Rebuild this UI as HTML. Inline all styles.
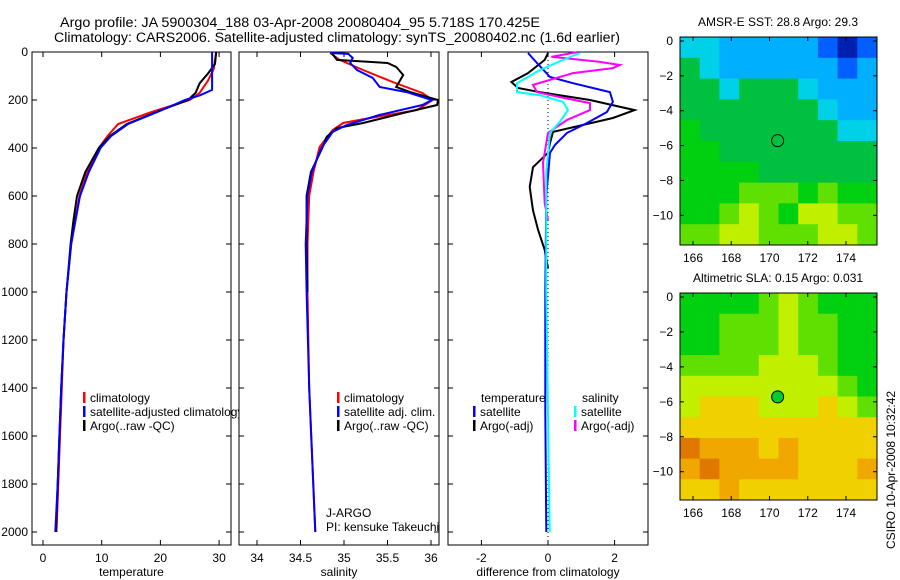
<!DOCTYPE html>
<html><head><meta charset="utf-8"><style>
html,body{margin:0;padding:0;background:#fff;}
svg{display:block;font-family:"Liberation Sans",sans-serif;}
</style></head><body>
<svg id="s" width="900" height="580" xmlns="http://www.w3.org/2000/svg"></svg>
<script>
// ---- data ----
const tempDepthClim=[0,70,120,170,200,250,300,350,400,500,600,800,1000,1200,1400,1600,1800,2000];
const tempClim=[29.5,29.1,28.1,26.7,25,18.5,12.8,11,9.5,7.5,6.2,4.8,4.0,3.5,3.2,2.9,2.6,2.3];
const tempDepthSat=[0,158,180,200,250,300,350,400,500,600,800,1000,1200,1400,1600,1800,2000];
const tempSat=[28.8,28.8,26.8,24.2,19.5,14.5,11.6,9.8,7.8,6.3,4.8,4.0,3.5,3.1,2.8,2.5,2.1];
const tempDepthArgo=[0,50,90,130,170,200,250,300,350,400,500,600,700,800,1000,1200,1400,1600,1800,2000];
const tempArgo=[29.5,29.3,28.1,26.7,26,24.7,19.3,14.3,11.4,9.5,7.2,5.8,5.2,4.7,4.0,3.5,3.1,2.8,2.5,2.2];

const salDepthClim=[4,33,75,125,171,200,242,275,296,325,396,500,600,800,1000,1400,2000];
const salClim=[34.84,34.95,35.22,35.56,35.9,36.02,35.84,35.3,34.99,34.87,34.72,34.65,34.6,34.58,34.58,34.6,34.67];
const salDepthSat=[4,8,25,46,75,108,146,167,200,221,262,304,333,400,500,600,800,1000,1400,2000];
const salSat=[34.84,35.05,35.1,35.07,35.15,35.33,35.41,35.72,36.01,35.9,35.41,35.03,34.87,34.74,34.63,34.58,34.56,34.57,34.6,34.67];
const salDepthArgo=[4,33,46,62,96,146,167,200,221,254,296,317,354,400,500,600,800,1000];
const salArgo=[34.86,34.92,35.5,35.6,35.68,35.6,35.76,36.08,36.07,35.68,35.22,34.92,34.8,34.75,34.62,34.57,34.57,34.58];

const diffDepthTA=[4,33,88,125,150,167,200,242,275,333,380,420,480,562,660,740,825,900];
const diffTA=[0,-0.1,-0.6,-1.1,-0.9,-0.25,1.26,2.6,1.95,0.15,0.06,0,-0.45,-0.55,-0.45,-0.3,-0.1,0];
const diffDepthTS=[4,46,104,130,167,208,250,296,337,387,420,600,1000,1500,2000];
const diffTS=[-0.6,-0.33,0.06,0.75,1.86,1.95,1.77,1.17,0.57,0.21,0.06,-0.05,-0.08,-0.08,-0.05];
const diffDepthSS=[4,33,75,130,167,180,208,242,290,337,500,1000,1500,2000];
const diffSS=[0.96,0.45,-0.24,-0.93,-0.93,-0.24,0.45,0.6,0.36,0.06,-0.05,-0.05,0,0.05];
const diffDepthSA=[0,20,40,54,67,88,137,167,188,213,242,283,337,462,630,700];
const diffSA=[0.9,0.1,1.5,2.16,1.95,0.75,-0.45,-0.33,0.36,1.26,1.26,0.57,0,-0.15,-0.1,0];

const depthTicks=[0,200,400,600,800,1000,1200,1400,1600,1800,2000];
const tempTicks=[0,10,20,30];
const salTicks=[34,34.5,35,35.5,36];
const diffTicks=[-2,0,2];
const lonTicks=[166,168,170,172,174];
const latTicks=[0,-2,-4,-6,-8,-10];

const palette=["#0020b0","#0060ff","#00b0ff","#00d0e8","#00c040","#00d010","#60e000","#c0f000","#f0d000","#f0a800","#e07800"];
const sstGrid=[
[3,3,2,2,2,2,2,1,0,1],
[4,3,2,2,2,2,2,2,1,2],
[4,4,3,4,4,4,3,2,2,2],
[4,4,4,4,4,4,4,3,2,2],
[5,4,4,4,4,4,4,4,3,3],
[5,5,4,4,4,4,4,4,4,4],
[5,5,5,5,4,4,4,4,4,4],
[5,5,5,6,6,6,5,6,5,5],
[5,5,6,7,6,5,7,7,6,6],
[6,6,7,7,6,6,6,7,7,6]];
const slaGrid=[
[5,5,5,5,6,7,6,5,5,5],
[5,5,6,6,6,7,6,6,5,5],
[5,5,6,6,6,7,6,6,5,5],
[6,6,6,6,7,7,7,6,5,5],
[7,7,7,7,7,7,7,7,6,5],
[7,8,8,8,7,7,7,8,7,6],
[8,8,8,8,8,8,8,8,8,8],
[10,9,9,9,8,9,8,8,8,8],
[9,10,9,9,9,9,8,8,8,9],
[8,8,9,8,8,8,8,8,8,8]];
const floatLon=170.425, floatLat=-5.718;

// ---- drawing ----
const S=document.getElementById('s');const NS='http://www.w3.org/2000/svg';
function el(t,a,p){const e=document.createElementNS(NS,t);for(const k in a)e.setAttribute(k,a[k]);(p||S).appendChild(e);return e;}
function txt(x,y,s,o,p){const e=el('text',Object.assign({x:x,y:y,'font-size':12,fill:'#000'},o||{}),p);e.textContent=s;return e;}
const TOP=52,BOT=545;
const yD=d=>52+d*0.24;

function panel(name,x0,x1,xf,ticks,label,tickFmt){
  const g=el('g',{});
  
  
  el('rect',{x:x0,y:TOP,width:x1-x0,height:BOT-TOP,fill:'#fff',stroke:'#000','stroke-width':1},g);
  ticks.forEach(t=>{const x=xf(t);
    el('line',{x1:x,x2:x,y1:BOT,y2:BOT-5,stroke:'#000'},g);
    el('line',{x1:x,x2:x,y1:TOP,y2:TOP+5,stroke:'#000'},g);
    const l=txt(x,562,tickFmt?tickFmt(t):String(t),{'text-anchor':'middle'},g);
    
    
  });
  depthTicks.forEach(d=>{const y=yD(d);
    el('line',{x1:x0,x2:x0+5,y1:y,y2:y,stroke:'#000'},g);
    el('line',{x1:x1,x2:x1-5,y1:y,y2:y,stroke:'#000'},g);});
  const t=txt((x0+x1)/2,576,label,{'text-anchor':'middle'},g);
  
  
  return g;
}
function line(g,xs,ds,xf,col,name){
  const pts=xs.map((v,i)=>xf(v).toFixed(1)+','+yD(ds[i]).toFixed(1)).join(' ');
  const p=el('polyline',{points:pts,fill:'none',stroke:col,'stroke-width':2},g);
  
  
}
function legend(g,x,y,col,label){
  el('rect',{x:x,y:y-10,width:2.5,height:11,fill:col},g);
  const t=txt(x+7,y,label,{},g);
  
  
}
// titles
let t1=txt(60,27,'Argo profile: JA 5900304_188 03-Apr-2008 20080404_95 5.718S 170.425E',{'font-size':13.5,textLength:480,lengthAdjust:'spacingAndGlyphs'});


let t2=txt(54,42,'Climatology: CARS2006. Satellite-adjusted climatology: synTS_20080402.nc (1.6d earlier)',{'font-size':13.5,textLength:566,lengthAdjust:'spacingAndGlyphs'});



// panel 1 temperature
const xT=v=>43+v*5.87;
const g1=panel('temperature-panel',32,231,xT,tempTicks,'temperature');
depthTicks.forEach(d=>{const l=txt(28,yD(d)+4,String(d),{'text-anchor':'end'});
  
  });
line(g1,tempClim,tempDepthClim,xT,'#ff0000','temp-climatology-line');
line(g1,tempArgo,tempDepthArgo,xT,'#000000','temp-argo-line');
line(g1,tempSat,tempDepthSat,xT,'#0000ff','temp-satellite-line');
legend(g1,83,402,'#ff0000','climatology');
legend(g1,83,416,'#0000ff','satellite-adjusted climatology');
legend(g1,83,430,'#000000','Argo(..raw -QC)');

// panel 2 salinity
const xS=v=>257+(v-34)*87;
const g2=panel('salinity-panel',239,439,xS,salTicks,'salinity');
line(g2,salClim,salDepthClim,xS,'#ff0000','sal-climatology-line');
line(g2,salArgo,salDepthArgo,xS,'#000000','sal-argo-line');
line(g2,salSat,salDepthSat,xS,'#0000ff','sal-satellite-line');
legend(g2,337,402,'#ff0000','climatology');
legend(g2,337,416,'#0000ff','satellite adj. clim.');
legend(g2,337,430,'#000000','Argo(..raw -QC)');
let ja=txt(326,517,'J-ARGO',{},g2);
let pi=txt(326,531,'PI: kensuke Takeuchi',{},g2);

// panel 3 diff
const xDf=v=>548+v*33.3;
const g3=panel('difference-panel',448,648,xDf,diffTicks,'difference from climatology');
el('line',{x1:xDf(0),x2:xDf(0),y1:TOP,y2:BOT,stroke:'#000','stroke-dasharray':'1,3'},g3);
line(g3,diffTA,diffDepthTA,xDf,'#000000','diff-temp-argo-line');
line(g3,diffTS,diffDepthTS,xDf,'#0000ff','diff-temp-satellite-line');
line(g3,diffSA,diffDepthSA,xDf,'#ff00ff','diff-sal-argo-line');
line(g3,diffSS,diffDepthSS,xDf,'#00ffff','diff-sal-satellite-line');
let lt=txt(481,402,'temperature',{},g3);
let ls=txt(582,402,'salinity',{},g3);
legend(g3,473,416,'#0000ff','satellite');
legend(g3,473,430,'#000000','Argo(-adj)');
legend(g3,574,416,'#00ffff','satellite');
legend(g3,574,430,'#ff00ff','Argo(-adj)');

// maps
function map(name,y0,y1,lat0y,lat10y,grid,title,filled){
  const g=el('g',{});
  
  
  const x0=680,x1=877;
  const xL=l=>693+(l-166)*19.125;
  const yL=l=>lat0y+(-l)*(lat10y-lat0y)/10;
  const rows=grid.length,cols=grid[0].length;
  const cw=(x1-x0)/cols,ch=(y1-y0)/rows;
  grid.forEach((r,i)=>r.forEach((v,j)=>{
    const c=el('rect',{x:x0+j*cw,y:y0+i*ch,width:cw+0.5,height:ch+0.5,fill:palette[v]},g);
    
    
  }));
  el('rect',{x:x0,y:y0,width:x1-x0,height:y1-y0,fill:'none',stroke:'#000'},g);
  lonTicks.forEach(l=>{const x=xL(l);
    el('line',{x1:x,x2:x,y1:y1,y2:y1-4,stroke:'#000'},g);
    el('line',{x1:x,x2:x,y1:y0,y2:y0+4,stroke:'#000'},g);
    const a=txt(x,y1+17,String(l),{'text-anchor':'middle'},g);
    });
  latTicks.forEach(l=>{const y=yL(l);
    el('line',{x1:x0,x2:x0+4,y1:y,y2:y,stroke:'#000'},g);
    el('line',{x1:x1,x2:x1-4,y1:y,y2:y,stroke:'#000'},g);
    const a=txt(673,y+4,String(l).replace('-','\u2212'),{'text-anchor':'end'},g);
    });
  const c=el('circle',{cx:xL(floatLon),cy:yL(floatLat),r:6,fill:filled?'#00cc30':'none',stroke:'#000'},g);
  
  
  const tt=txt(778,y0-11,title,{'text-anchor':'middle'},g);
  
}
map('sst-map',37,245,41,215.3,sstGrid,'AMSR-E SST: 28.8 Argo: 29.3',false);
map('sla-map',293,500,297,471.7,slaGrid,'Altimetric SLA: 0.15 Argo: 0.031',true);
let st=txt(0,0,'CSIRO 10-Apr-2008 10:32:42',{'text-anchor':'middle',transform:'translate(895,470) rotate(-90)'});


</script>
</body></html>
